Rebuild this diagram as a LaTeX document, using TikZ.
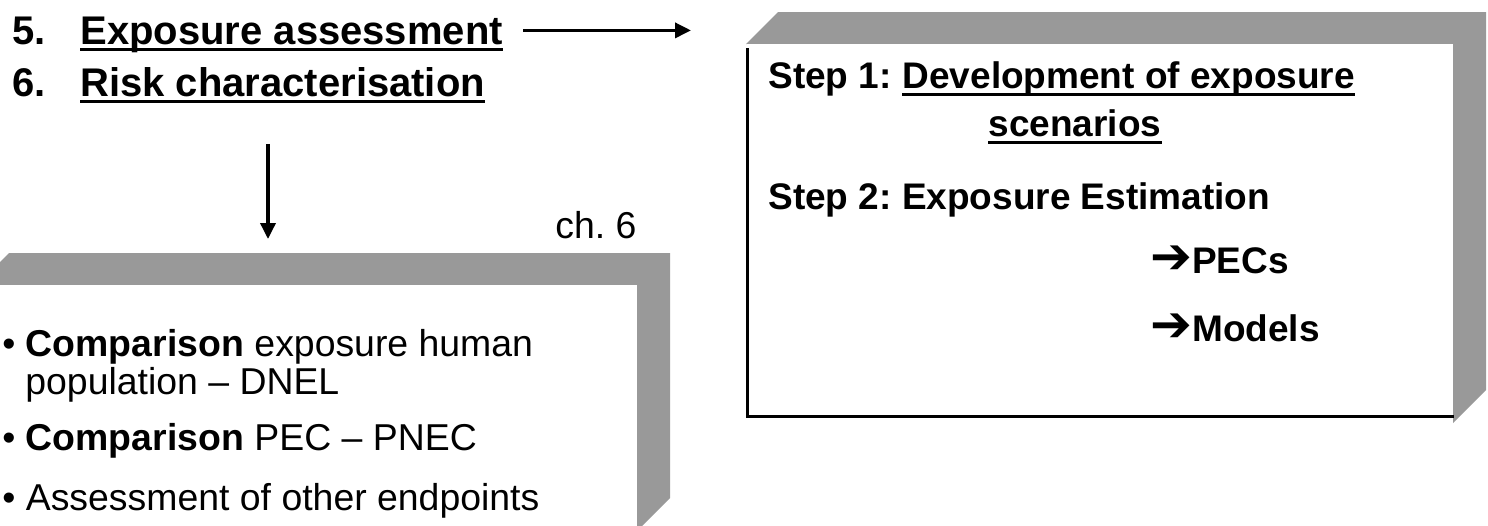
\documentclass[tikz,border=0pt]{standalone}
\usepackage{fontspec}
\setmainfont{Liberation Sans}
\newfontfamily\dingfont{DejaVu Sans}
\usetikzlibrary{positioning,arrows.meta}
\definecolor{framegray}{RGB}{153,153,153}
\frenchspacing

\begin{document}
\begin{tikzpicture}[
            x=0.5pt,y=-0.5pt,
            head/.style={
                    inner sep=0pt,
                    anchor=base west,
                    font=\fontsize{20}{24}\selectfont\bfseries
                },
            stepline/.style={
                    inner sep=0pt,
                    anchor=base west,
                    font=\fontsize{18.5}{22}\selectfont\bfseries
                },
            bullet/.style={
                    inner sep=0pt,
                    anchor=base west,
                    font=\fontsize{18.7}{22}\selectfont
                },
            uline/.style={line width=1.5pt},
            arr/.style={line width=1.75pt,-{Triangle[length=8pt,width=7.5pt]}},
            panel/.style={inner sep=0pt,fill=white,anchor=north west}
        ]
        \useasboundingbox (0,0) rectangle (1488,525);
        \clip (0,0) rectangle (1488,525);

        % frames
        \fill[framegray] (746,44) -- (778,12) -- (1486,12) -- (1486,390) -- (1453,423) -- (1453,44) -- cycle;
        \node[panel,minimum width=353pt,minimum height=186pt] (exbox) at (747,44) {};
        \draw[line width=1.5pt] ([yshift=-2pt]exbox.north west) -- (exbox.south west) -- (exbox.south east);

        \fill[framegray] (-23,285) -- (9,253) -- (670,253) -- (670,498) -- (637,531) -- (637,285) -- cycle;
        \node[panel,minimum width=340pt,minimum height=130pt] (rcbox) at (-43,285) {};

        % headings
        \node[head] (n5) at (12,44) {5.};
        \node[head] (expo) at (80,44) {Exposure assessment};
        \node[head] (n6) at (12,96) {6.};
        \node[head] (risk) at (80,96) {Risk characterisation};
        \draw[uline] ([yshift=-2.5pt]expo.base west) -- ([yshift=-2.5pt]expo.base east);
        \draw[uline] ([yshift=-2.5pt]risk.base west) -- ([yshift=-2.5pt]risk.base east);

        \coordinate (drop) at (268,0);
        \draw[arr] ([xshift=10pt,yshift=2pt]expo.east) -- ([xshift=-28pt,yshift=2pt]expo.east -| exbox.west);
        \draw[arr] ([yshift=-23.5pt]drop |- risk.south) -- ([yshift=23pt]drop |- rcbox.north);

        \node[bullet] (ch6) at (555,238) {ch. 6};

        % exposure box
        \node[stepline] (s1) at (768,88) {Step 1:};
        \node[stepline,right=5pt of s1.base east,anchor=base west] (s1a) {Development of exposure};
        \node[stepline,anchor=base] (s1b) at (1075,136) {scenarios};
        \draw[uline] ([yshift=-3pt]s1a.base west) -- ([yshift=-3pt]s1a.base east);
        \draw[uline] ([yshift=-3pt]s1b.base west) -- ([yshift=-3pt]s1b.base east);
        \node[stepline] (s2) at (768,209) {Step 2: Exposure Estimation};
        \node[stepline] (pecs) at (1150,273) {{\dingfont\fontsize{25}{25}\selectfont ➔}PECs};
        \node[stepline] (models) at (1150,341) {{\dingfont\fontsize{25}{25}\selectfont ➔}Models};

        % risk box
        \node[bullet] (c1) at (2,356) {\textbullet\ \textbf{Comparison} exposure human};
        \node[bullet] (c1b) at (25,394) {population – DNEL};
        \node[bullet] (c2) at (2,450) {\textbullet\ \textbf{Comparison} PEC – PNEC};
        \node[bullet] (c3) at (2,510) {\textbullet\ Assessment of other endpoints};
    \end{tikzpicture}
\end{document}
